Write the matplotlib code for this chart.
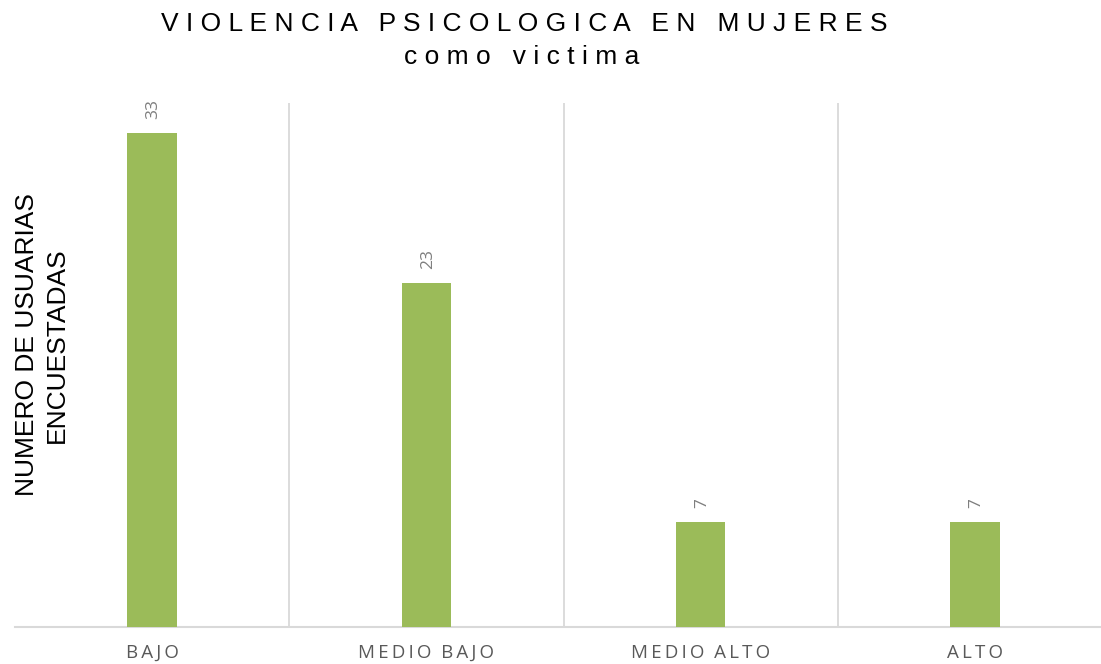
import matplotlib
matplotlib.use("Agg")
import matplotlib.pyplot as plt
from matplotlib import font_manager

# data
categories = ["BAJO", "MEDIO BAJO", "MEDIO ALTO", "ALTO"]
values = [33, 23, 7, 7]

title_line1 = "VIOLENCIA PSICOLOGICA EN MUJERES"
title_line2 = "como victima"
ylabel_text = "NUMERO DE USUARIAS\nENCUESTADAS"

bar_color = "#9BBB59"
grid_color = "#d9d9d9"
label_gray = "#595959"


def spaced(s, gap=" ", word_gap="   "):
    # spread the letters like the office chart does
    words = s.split(" ")
    return word_gap.join(gap.join(w) for w in words)


names = {f.name for f in font_manager.fontManager.ttflist}
title_font = "Liberation Sans Narrow" if "Liberation Sans Narrow" in names else "Liberation Sans"

fig = plt.figure(figsize=(11.01, 6.64), dpi=100)
ax = fig.add_axes([15 / 1101, 1 - 627 / 664, 1097 / 1101, (627 - 103) / 664])

x = range(len(categories))
bars = ax.bar(x, values, width=0.18, color=bar_color, zorder=3)

ax.set_xlim(-0.5, len(categories) - 0.5)
ax.set_ylim(0, 35)

for b, v in zip(bars, values):
    ax.annotate(str(v), (b.get_x() + b.get_width() / 2, v),
                xytext=(1, 10), textcoords="offset points",
                rotation=90, ha="center", va="bottom",
                color="#7f7f7f", fontsize=12.5, family="Open Sans")

# category separators
for xs in [0.5, 1.5, 2.5]:
    ax.axvline(xs, color=grid_color, lw=1.3, zorder=1)

for side in ["top", "right", "left"]:
    ax.spines[side].set_visible(False)
ax.spines["bottom"].set_color(grid_color)
ax.spines["bottom"].set_linewidth(1.5)

ax.set_yticks([])
ax.set_xticks(list(x))
ax.set_xticklabels([spaced(c, "\u2009", "  ") for c in categories],
                   color=label_gray, fontsize=13.5, family="Open Sans")
ax.tick_params(axis="x", length=0, pad=12)

fig.text(524 / 1101, 1 - 24 / 664, spaced(title_line1), ha="center", va="center",
         fontsize=19, family=title_font, color="black")
fig.text(522 / 1101, 1 - 57 / 664, spaced(title_line2), ha="center", va="center",
         fontsize=19, family=title_font, color="black")

fig.text(42 / 1101, 1 - 345 / 664, ylabel_text, rotation=90, ha="center", va="center",
         fontsize=19, family="Liberation Sans", color="black", linespacing=1.3,
         multialignment="center")

fig.savefig("out.png", dpi=100)
